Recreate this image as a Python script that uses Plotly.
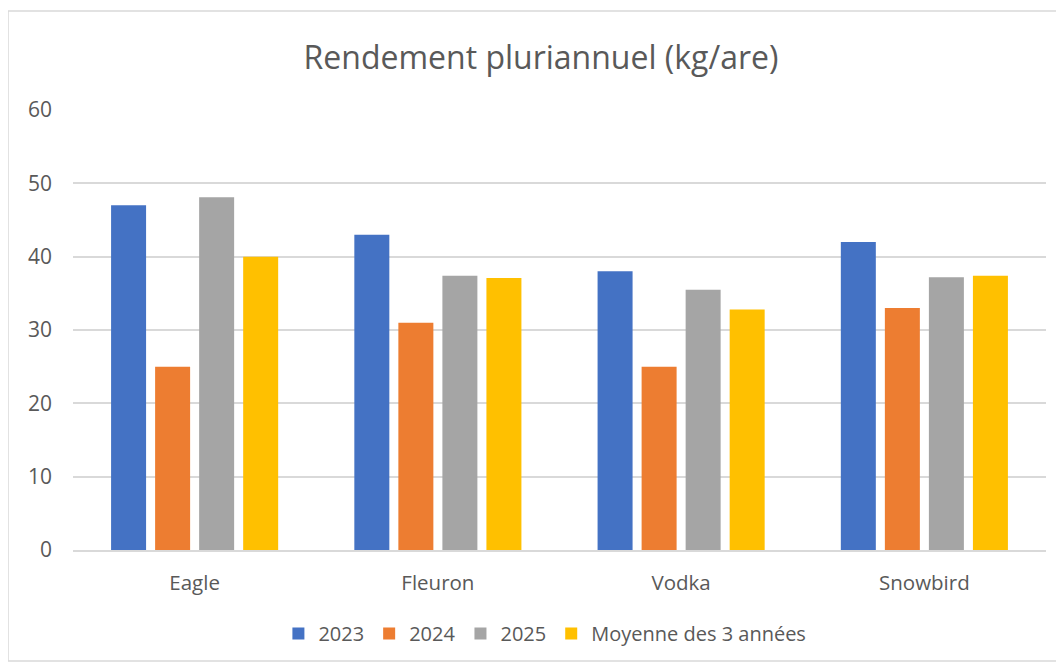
import plotly.graph_objects as go

categories = ["Eagle", "Fleuron", "Vodka", "Snowbird"]
y2023 = [47, 43, 38, 42]
y2024 = [25, 31, 25, 33]
y2025 = [48.1, 37.4, 35.5, 37.2]
moyenne = [40.0, 37.1, 32.8, 37.4]

series = [
    ("2023", y2023, "#4472C4"),
    ("2024", y2024, "#ED7D31"),
    ("2025", y2025, "#A5A5A5"),
    ("Moyenne des 3 années", moyenne, "#FFC000"),
]

FONT = "Open Sans, Lato, sans-serif"
TXT = "#595959"

fig = go.Figure()
for name, vals, col in series:
    fig.add_trace(go.Bar(x=categories, y=vals, name=name, marker=dict(color=col, line=dict(width=0))))

# page body has an 8px margin: figure coordinates = page coordinates - 8
fig.update_layout(
    width=1064, height=663,
    paper_bgcolor="white", plot_bgcolor="white",
    barmode="group", bargap=0.276, bargroupgap=0.205,
    margin=dict(l=65, r=26, t=102, b=121),
    title=dict(text="Rendement pluriannuel (kg/are)", x=(541 - 8) / 1064, xanchor="center",
               y=1 - 50 / 663, yanchor="middle",
               font=dict(family=FONT, size=32, color=TXT)),
    font=dict(family=FONT, color=TXT, size=20),
    xaxis=dict(showgrid=False, showline=True, linecolor="#D9D9D9", linewidth=1.5,
               ticks="", tickfont=dict(size=20.5, color=TXT), ticklabelstandoff=14),
    yaxis=dict(range=[0, 60], dtick=10, showgrid=True, gridcolor="#D9D9D9", gridwidth=1.5,
               zeroline=False, showline=False, ticks="",
               tickfont=dict(size=21, color=TXT), ticklabelstandoff=20),
    legend=dict(orientation="h", x=0.485, xanchor="center", y=-0.19, yanchor="middle",
                font=dict(size=20, color=TXT), traceorder="normal", itemwidth=30),
    showlegend=True,
)
fig.add_shape(type="rect", xref="paper", yref="paper",
              x0=(0 - 65) / 973, x1=(1055 - 65) / 973,
              y0=-(653 - 542) / 440, y1=1 + (102 - 3) / 440,
              line=dict(color="#D9D9D9", width=1.5), fillcolor="rgba(0,0,0,0)", layer="below")

fig.write_html("out.html")
